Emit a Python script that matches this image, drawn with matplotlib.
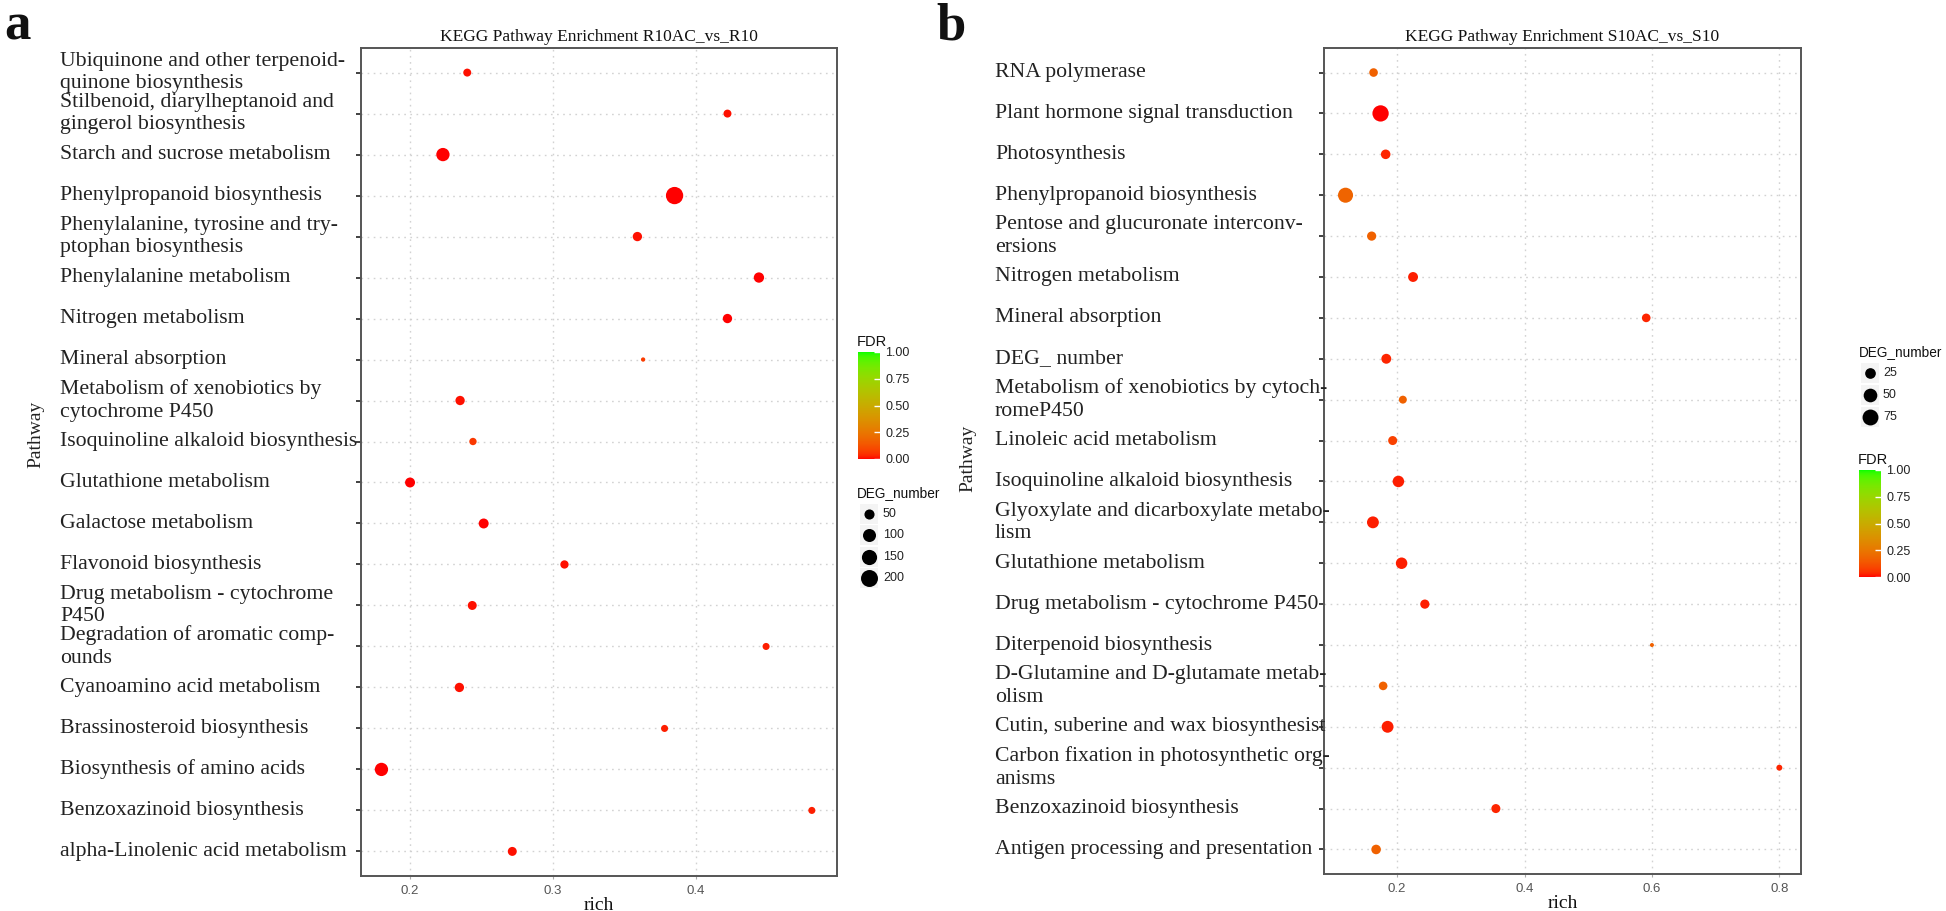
import numpy as np
import matplotlib
matplotlib.use("Agg")
import matplotlib.pyplot as plt
import matplotlib.transforms as mtrans
from matplotlib.colors import ListedColormap, Normalize
from matplotlib.lines import Line2D
from matplotlib.patches import Rectangle
from matplotlib.cm import ScalarMappable

# ---------------- data ----------------
# Panel a: KEGG Pathway Enrichment R10AC_vs_R10 (top -> bottom)
a_pathways = [
    "Ubiquinone and other terpenoid-\nquinone biosynthesis",
    "Stilbenoid, diarylheptanoid and\ngingerol biosynthesis",
    "Starch and sucrose metabolism",
    "Phenylpropanoid biosynthesis",
    "Phenylalanine, tyrosine and try-\nptophan biosynthesis",
    "Phenylalanine metabolism",
    "Nitrogen metabolism",
    "Mineral absorption",
    "Metabolism of xenobiotics by\ncytochrome P450",
    "Isoquinoline alkaloid biosynthesis",
    "Glutathione metabolism",
    "Galactose metabolism",
    "Flavonoid biosynthesis",
    "Drug metabolism - cytochrome\nP450",
    "Degradation of aromatic comp-\nounds",
    "Cyanoamino acid metabolism",
    "Brassinosteroid biosynthesis",
    "Biosynthesis of amino acids",
    "Benzoxazinoid biosynthesis",
    "alpha-Linolenic acid metabolism",
]
a_rich = [0.240, 0.422, 0.223, 0.385, 0.359, 0.444, 0.422, 0.363, 0.235, 0.244,
          0.200, 0.2515, 0.308, 0.2435, 0.449, 0.2345, 0.378, 0.180, 0.481, 0.2715]
a_deg = [26, 26, 106, 210, 40, 53, 40, 10, 40, 21,
         48, 48, 29, 36, 19, 40, 19, 106, 19, 36]
a_fdr = [0.01, 0.01, 0.0, 0.0, 0.01, 0.0, 0.0, 0.07, 0.01, 0.06,
         0.0, 0.0, 0.01, 0.01, 0.02, 0.01, 0.02, 0.0, 0.02, 0.01]
a_xticks = [0.2, 0.3, 0.4]
a_legend_sizes = [50, 100, 150, 200]

# Panel b: KEGG Pathway Enrichment S10AC_vs_S10 (top -> bottom)
b_pathways = [
    "RNA polymerase",
    "Plant hormone signal transduction",
    "Photosynthesis",
    "Phenylpropanoid biosynthesis",
    "Pentose and glucuronate interconv-\nersions",
    "Nitrogen metabolism",
    "Mineral absorption",
    "DEG_ number",
    "Metabolism of xenobiotics by cytoch-\nromeP450",
    "Linoleic acid metabolism",
    "Isoquinoline alkaloid biosynthesis",
    "Glyoxylate and dicarboxylate metabo-\nlism",
    "Glutathione metabolism",
    "Drug metabolism - cytochrome P450",
    "Diterpenoid biosynthesis",
    "D-Glutamine and D-glutamate metab-\nolism",
    "Cutin, suberine and wax biosynthesist",
    "Carbon fixation in photosynthetic org-\nanisms",
    "Benzoxazinoid biosynthesis",
    "Antigen processing and presentation",
]
b_rich = [0.163, 0.174, 0.182, 0.119, 0.160, 0.225, 0.591, 0.183, 0.209, 0.193,
          0.202, 0.162, 0.207, 0.2435, 0.600, 0.178, 0.185, 0.800, 0.355, 0.167]
b_deg = [13, 80, 18, 65, 16, 20, 13, 20, 10, 15,
         31, 34, 31, 16, 2, 13, 34, 4, 15, 18]
b_fdr = [0.17, 0.0, 0.03, 0.18, 0.17, 0.02, 0.03, 0.03, 0.17, 0.08,
         0.02, 0.02, 0.02, 0.02, 0.17, 0.17, 0.02, 0.03, 0.03, 0.17]
b_xticks = [0.2, 0.4, 0.6, 0.8]
b_legend_sizes = [25, 50, 75]

fdr_ticks = [0.0, 0.25, 0.5, 0.75, 1.0]

# ---------------- helpers ----------------
W, H = 1946, 911
DPI = 100


def fx(px):
    return px / W


def fy(py):
    return 1 - py / H


# Lab-space gradient red -> green (like ggplot scale_colour_gradient)
_M = np.array([[0.4124564, 0.3575761, 0.1804375],
               [0.2126729, 0.7151522, 0.0721750],
               [0.0193339, 0.1191920, 0.9503041]])
_WHITE = _M @ np.ones(3)


def rgb2lab(rgb):
    c = np.asarray(rgb, float)
    lin = np.where(c <= 0.04045, c / 12.92, ((c + 0.055) / 1.055) ** 2.4)
    xyz = (_M @ lin) / _WHITE
    f = np.where(xyz > 216 / 24389, np.cbrt(xyz), (24389 / 27 * xyz + 16) / 116)
    return np.array([116 * f[1] - 16, 500 * (f[0] - f[1]), 200 * (f[1] - f[2])])


def lab2rgb(lab):
    L, a, b = lab
    fy_ = (L + 16) / 116
    fx_ = fy_ + a / 500
    fz_ = fy_ - b / 200
    f = np.array([fx_, fy_, fz_])
    xyz = np.where(f ** 3 > 216 / 24389, f ** 3, (116 * f - 16) / (24389 / 27))
    xyz = xyz * _WHITE
    lin = np.linalg.solve(_M, xyz)
    lin = np.clip(lin, 0, 1)
    srgb = np.where(lin <= 0.0031308, 12.92 * lin, 1.055 * lin ** (1 / 2.4) - 0.055)
    return np.clip(srgb, 0, 1)


lab_lo = rgb2lab([1, 0, 0])
lab_hi = rgb2lab([0, 1, 0])
cmap = ListedColormap([lab2rgb(lab_lo + t * (lab_hi - lab_lo)) for t in np.linspace(0, 1, 256)])
norm = Normalize(0, 1)


def size_px(v, vmin, vmax, dmin, dmax):
    v = np.asarray(v, float)
    return dmin + (dmax - dmin) * np.sqrt(np.clip((v - vmin) / (vmax - vmin), 0, None))


SERIF = ["Liberation Serif", "DejaVu Serif"]
SANS = ["Liberation Sans", "DejaVu Sans"]

fig = plt.figure(figsize=(W / DPI, H / DPI), dpi=DPI)
fig.patch.set_facecolor("white")


def draw_panel(rect, names, rich, deg, fdr, xticks, xlim, title, label_x_px,
               smin, smax, dmin, dmax):
    ax = fig.add_axes(rect)
    n = len(names)
    ypos = np.arange(n)[::-1]
    d = size_px(deg, smin, smax, dmin, dmax)
    ax.scatter(rich, ypos, s=(d * 72 / DPI) ** 2, c=fdr, cmap=cmap, norm=norm,
               linewidths=0, zorder=3)
    ax.set_xlim(*xlim)
    ax.set_ylim(-0.6, n - 0.4)
    ax.set_yticks(ypos)
    ax.set_yticklabels([])
    ax.set_xticks(xticks)
    ax.set_xticklabels([f"{t:g}" for t in xticks], fontsize=9.5, color="#555555",
                       family=SANS)
    ax.grid(True, color="#D2D2D2", linestyle=(0, (1.2, 3.2)), linewidth=1.0, zorder=0)
    for sp in ax.spines.values():
        sp.set_color("#555555")
        sp.set_linewidth(1.4)
    ax.tick_params(axis="y", length=3.5, width=1.3, color="#333333")
    ax.tick_params(axis="x", length=2.5, width=0.8, color="#AAAAAA", pad=4)
    ax.set_title(title, fontsize=12.5, family=SERIF, color="#111111", pad=5)
    ax.set_xlabel("rich", fontsize=14, family=SERIF, color="#111111", labelpad=0)
    trans = mtrans.blended_transform_factory(fig.transFigure, ax.transData)
    for name, y in zip(names, ypos):
        ax.text(fx(label_x_px), y, name, transform=trans, ha="left", va="center",
                fontsize=15.7, family=SERIF, color="#222222", linespacing=1.25,
                clip_on=False)
    return ax


def draw_size_legend(title_xy, ys, dot_x, lab_x, values, smin, smax, dmin, dmax):
    fig.text(fx(title_xy[0]), fy(title_xy[1]), "DEG_number", fontsize=9.8,
             family=SANS, color="#111111", ha="left", va="center")
    dd = size_px(values, smin, smax, dmin, dmax)
    for v, y, d in zip(values, ys, dd):
        fig.add_artist(Rectangle((fx(dot_x - 9), fy(y + 10)), 18 / W, 20 / H,
                                 transform=fig.transFigure, facecolor="#F4F4F4",
                                 edgecolor="none"))
        fig.add_artist(Line2D([fx(dot_x)], [fy(y)], marker="o", linestyle="none",
                              markersize=d * 72 / DPI, color="black",
                              markeredgewidth=0, transform=fig.transFigure))
        fig.text(fx(lab_x), fy(y), f"{v}", fontsize=9, family=SANS, color="#222222",
                 ha="left", va="center")


def draw_fdr_legend(title_xy, x0, x1, y0, y1):
    fig.text(fx(title_xy[0]), fy(title_xy[1]), "FDR", fontsize=10.5, family=SANS,
             color="#111111", ha="left", va="center")
    cax = fig.add_axes([fx(x0), fy(y1), (x1 - x0) / W, (y1 - y0) / H])
    cb = fig.colorbar(ScalarMappable(norm=norm, cmap=cmap), cax=cax, ticks=fdr_ticks)
    cb.outline.set_visible(False)
    cb.ax.set_yticklabels([f"{t:.2f}" for t in fdr_ticks])
    cb.ax.tick_params(direction="in", length=4, width=1, color="white",
                      labelsize=9, labelcolor="#222222", pad=4)
    for lab in cb.ax.get_yticklabels():
        lab.set_family(SANS)


# Panel a
axa = draw_panel([fx(361), fy(876), (837 - 361) / W, (876 - 48) / H],
                 a_pathways, a_rich, a_deg, a_fdr, a_xticks, (0.1657, 0.4986),
                 "KEGG Pathway Enrichment R10AC_vs_R10", 60,
                 min(a_deg), max(a_deg), 4.3, 17.3)
# Panel b
axb = draw_panel([fx(1324), fy(874), (1801 - 1324) / W, (874 - 48) / H],
                 b_pathways, b_rich, b_deg, b_fdr, b_xticks, (0.0852, 0.834),
                 "KEGG Pathway Enrichment S10AC_vs_S10", 995,
                 min(b_deg), max(b_deg), 4.0, 16.3)

# y labels
fig.text(fx(36), fy(434), "Pathway", rotation=90, fontsize=14, family=SERIF,
         color="#222222", ha="center", va="center")
fig.text(fx(968), fy(458), "Pathway", rotation=90, fontsize=14, family=SERIF,
         color="#222222", ha="center", va="center")

# panel letters
fig.text(fx(4), fy(40), "a", fontsize=38, family=SERIF, weight="bold",
         color="#111111", ha="left", va="baseline")
fig.text(fx(936), fy(40), "b", fontsize=38, family=SERIF, weight="bold",
         color="#111111", ha="left", va="baseline")

# legends panel a
draw_fdr_legend((857, 342), 858, 880, 352, 459)
draw_size_legend((857, 493), [514, 535, 557, 578], 869, 883, a_legend_sizes,
                 min(a_deg), max(a_deg), 4.3, 17.3)
# legends panel b
draw_size_legend((1859, 352), [373, 395, 417], 1870, 1883, b_legend_sizes,
                 min(b_deg), max(b_deg), 4.0, 16.3)
draw_fdr_legend((1858, 460), 1859, 1881, 470, 577)

fig.savefig("out.png", dpi=DPI, facecolor="white")
